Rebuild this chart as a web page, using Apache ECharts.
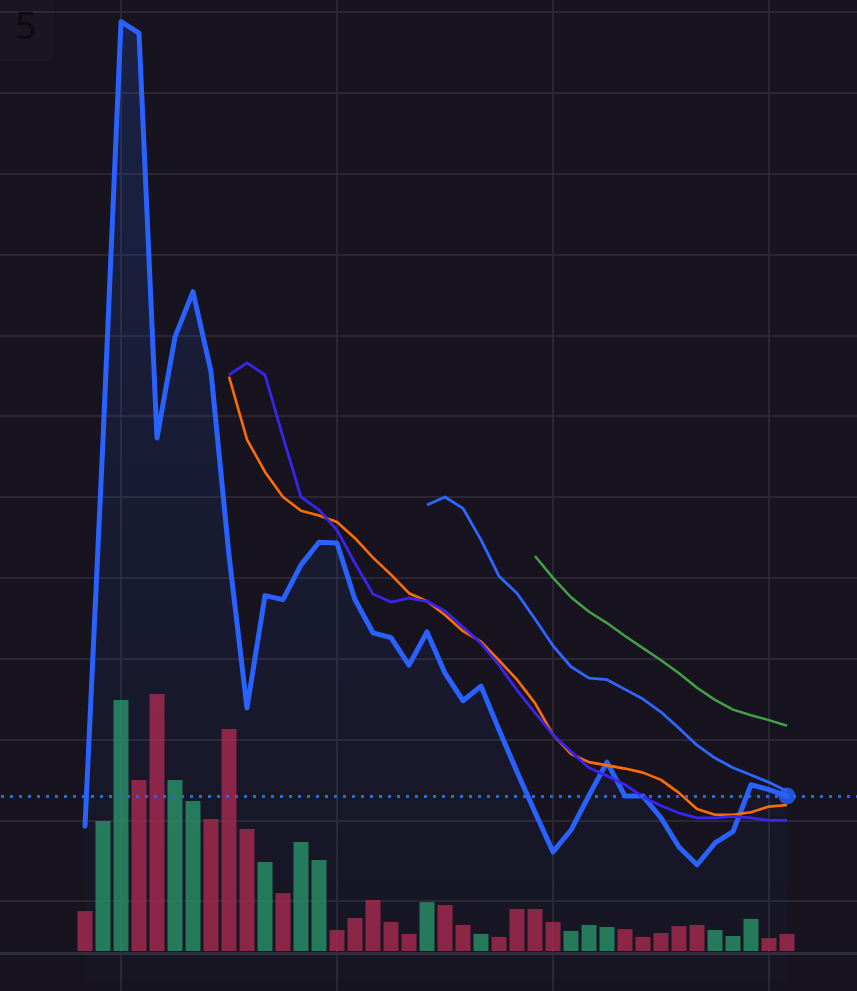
<!DOCTYPE html>
<html><head><meta charset="utf-8">
<style>html,body{margin:0;padding:0;background:#17141f;overflow:hidden}#chart{width:857px;height:991px;}</style>
<script src="https://cdn.jsdelivr.net/npm/echarts@6/dist/echarts.min.js"></script>
</head><body><div id="chart"></div>
<script>
// bar / candle slots (x index)
const slots = [0,1,2,3,4,5,6,7,8,9,10,11,12,13,14,15,16,17,18,19,20,21,22,23,24,25,26,27,28,29,30,31,32,33,34,35,36,37,38,39];
// vertical grid line positions (slot index)
const xTicks = [2, 14, 26, 38];
// main price line
const price = [1.93,6.71,11.88,11.74,6.73,7.98,8.54,7.55,5.28,3.39,
               4.78,4.73,5.16,5.44,5.43,4.73,4.32,4.26,3.92,4.33,
               3.82,3.48,3.66,3.12,2.60,2.10,1.61,1.88,2.31,2.72,
               2.30,2.30,2.03,1.67,1.45,1.72,1.86,2.44,2.38,2.30];
// moving averages
const maPurple = [null,null,null,null,null,null,null,null,
               7.51,7.66,7.51,6.74,6.00,5.84,5.59,5.18,4.80,4.70,
               4.75,4.71,4.59,4.39,4.19,3.92,3.61,3.33,3.06,2.85,
               2.65,2.55,2.44,2.29,2.18,2.09,2.03,2.03,2.05,2.03,2.00,2.00];
const maOrange = [null,null,null,null,null,null,null,null,
               7.49,6.71,6.31,6.00,5.83,5.77,5.69,5.49,5.25,5.04,
               4.81,4.71,4.54,4.34,4.21,3.98,3.74,3.45,3.06,2.82,
               2.72,2.68,2.64,2.59,2.50,2.34,2.14,2.07,2.07,2.10,2.17,2.19];
const maBlue = [null,null,null,null,null,null,null,null,null,null,
               null,null,null,null,null,null,null,null,null,
               5.90,6.00,5.86,5.47,5.02,4.81,4.49,4.16,3.90,3.76,3.74,
               3.62,3.50,3.34,3.14,2.93,2.77,2.65,2.56,2.47,2.36];
const maGreen = [null,null,null,null,null,null,null,null,null,null,
               null,null,null,null,null,null,null,null,null,null,
               null,null,null,null,null,
               5.27,5.00,4.76,4.58,4.44,4.28,4.13,3.98,3.82,3.64,3.49,3.37,3.30,3.24,3.17];
// volumes and direction (1 = up / green, 0 = down / red)
const volume = [13.3,43.3,83.7,57.0,85.7,57.0,50.0,44.0,74.0,40.7,
                29.7,19.3,36.3,30.3,7.0,11.0,17.0,9.7,5.7,16.3,
                15.3,8.7,5.7,4.7,14.0,14.0,9.7,6.7,8.7,8.0,
                7.3,4.7,6.0,8.3,8.7,7.0,5.0,10.7,4.3,5.7];
const direction = [0,1,1,0,0,1,1,0,0,0,
                   1,0,1,1,0,0,0,0,0,1,
                   0,0,1,0,0,0,0,1,1,1,
                   0,0,0,0,0,1,1,1,0,0];
const labelText = '5';

const BG = '#17141f', GRIDC = '#2a2733';
const pair = arr => slots.map((x, i) => [x, arr[i]]);
const last = slots.length - 1;
const X_MIN = -4.7222, X_MAX = 42.8889;

const chart = echarts.init(document.getElementById('chart'), null, {renderer: 'canvas'});
const xBase = {type: 'value', min: X_MIN, max: X_MAX, axisLabel: {show: false}, axisTick: {show: false}, splitLine: {show: false}};

chart.setOption({
  backgroundColor: BG,
  animation: false,
  grid: [
    {left: 0, right: 0, top: 0, bottom: 0},
    {left: 0, right: 0, top: 12, bottom: 9},
    {left: 0, right: 0, top: 651, bottom: 40}
  ],
  xAxis: [
    Object.assign({}, xBase, {gridIndex: 0, axisLine: {show: false}}),
    Object.assign({}, xBase, {gridIndex: 1, axisLine: {show: false}}),
    Object.assign({}, xBase, {gridIndex: 2, position: 'bottom', offset: 2, axisLine: {show: true, onZero: false, lineStyle: {color: '#2d2f3a', width: 3}}})
  ],
  yAxis: [
    {gridIndex: 0, type: 'value', min: 0, max: 1, show: false, splitLine: {show: false}},
    {gridIndex: 1, type: 'value', min: 0, max: 12, interval: 1, axisLine: {show: false}, axisTick: {show: false}, axisLabel: {show: false},
      splitLine: {show: true, showMinLine: false, lineStyle: {color: GRIDC, width: 2}}},
    {gridIndex: 2, type: 'value', min: 0, max: 100, show: false, splitLine: {show: false}}
  ],
  series: [
    {
      type: 'line', xAxisIndex: 0, yAxisIndex: 0, z: 0, zlevel: 0, data: [], silent: true,
      markLine: {silent: true, symbol: 'none', label: {show: false}, animation: false, z: 0,
        lineStyle: {color: GRIDC, width: 2, type: 'solid'},
        data: xTicks.map(v => ({xAxis: v}))}
    },
    {
      type: 'bar', xAxisIndex: 2, yAxisIndex: 2, barWidth: 15, z: 4,
      data: slots.map((x, i) => ({value: [x, volume[i]], itemStyle: {color: direction[i] ? 'rgba(42,148,106,0.8)' : 'rgba(169,42,80,0.8)'}}))
    },
    {
      type: 'line', xAxisIndex: 1, yAxisIndex: 1, z: 3, data: pair(price), showSymbol: false,
      lineStyle: {color: '#2962ff', width: 5, cap: 'round', join: 'round'},
      areaStyle: {origin: 'start', color: new echarts.graphic.LinearGradient(0, 0, 0, 1, [
        {offset: 0, color: 'rgba(41,98,255,0.24)'}, {offset: 1, color: 'rgba(41,98,255,0.02)'}])},
      markLine: {silent: true, symbol: 'none', z: 10, label: {show: false},
        lineStyle: {color: '#2962ff', width: 3, type: [3, 6], dashOffset: 8},
        data: [{yAxis: price[last]}]}
    },
    {type: 'line', xAxisIndex: 1, yAxisIndex: 1, z: 5, data: pair(maGreen), showSymbol: false, lineStyle: {color: '#43a047', width: 2.5}},
    {type: 'line', xAxisIndex: 1, yAxisIndex: 1, z: 5, data: pair(maBlue), showSymbol: false, lineStyle: {color: '#2e66ff', width: 2.8}},
    {type: 'line', xAxisIndex: 1, yAxisIndex: 1, z: 5, data: pair(maOrange), showSymbol: false, lineStyle: {color: '#ff6d00', width: 2.6}},
    {type: 'line', xAxisIndex: 1, yAxisIndex: 1, z: 5, data: pair(maPurple), showSymbol: false, lineStyle: {color: '#3a24f0', width: 2.8}},
    {type: 'scatter', xAxisIndex: 1, yAxisIndex: 1, z: 11, symbolSize: 17, itemStyle: {color: '#2962ff'},
      data: [[slots[last], price[last]]]}
  ],
  graphic: [
    {type: 'rect', left: -6, top: -6, z: 20, shape: {width: 61, height: 68, r: 6},
      style: {fill: 'rgba(255,255,255,0.012)', stroke: 'rgba(0,0,0,0.25)', lineWidth: 1}},
    {type: 'text', x: 15, y: 28, z: 21, style: {text: labelText, fill: '#0c0b10', font: '38px "Noto Sans", sans-serif', verticalAlign: 'middle'}}
  ]
});
</script>
</body></html>
